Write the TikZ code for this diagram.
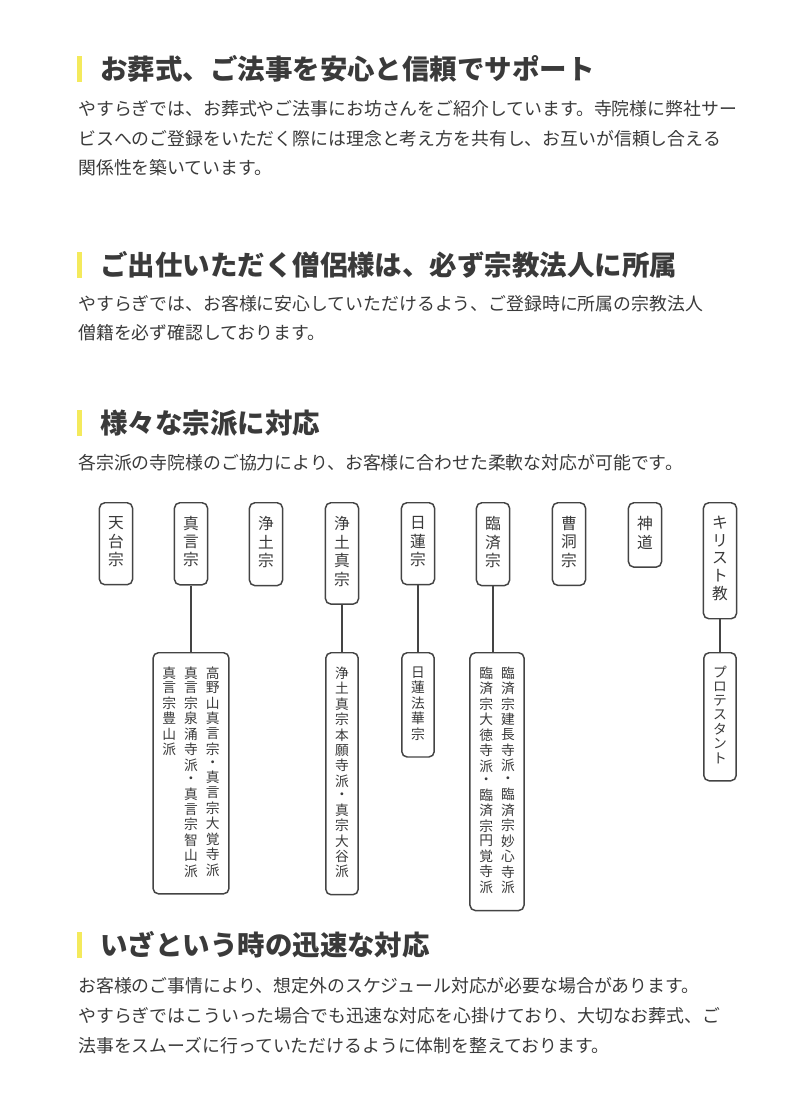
\documentclass[tikz,border=0pt]{standalone}
\usepackage{fontspec}
\setmainfont{Noto Sans CJK JP}
\definecolor{txt}{HTML}{3A3A3A}
\definecolor{bx}{HTML}{444444}
\definecolor{hlyellow}{RGB}{244,234,92}
\ExplSyntaxOn
\tl_new:N \l_my_col_tl
\NewDocumentCommand\vcol{m}{
  \tl_clear:N \l_my_col_tl
  \tl_map_inline:nn {#1}{\tl_put_right:Nn \l_my_col_tl {##1\\}}
  \begin{tabular}[t]{@{}c@{}}\l_my_col_tl\end{tabular}}
\ExplSyntaxOff
\renewcommand\arraystretch{1}
\begin{document}
\begin{tikzpicture}[x=0.75pt,y=-0.75pt,
  every node/.style={inner sep=0pt,text=txt},
  head/.style={anchor=west,font=\fontsize{20.6pt}{22pt}\selectfont\bfseries},
  body/.style={anchor=west,font=\fontsize{13.4pt}{15pt}\selectfont},
  topbox/.style={draw=bx,line width=1.1pt,rounded corners=4pt,anchor=north,
     inner xsep=6.5pt,inner ysep=10.3pt,font=\fontsize{11.8pt}{13.1pt}\selectfont},
  subbox/.style={draw=bx,line width=1.1pt,rounded corners=4pt,anchor=north,
     inner xsep=7pt,inner ysep=10.3pt,font=\fontsize{10.3pt}{10pt}\selectfont},
  bar/.style={fill=hlyellow,draw=none},
  link/.style={draw=bx,line width=1.5pt}]
\useasboundingbox[fill=white] (0,0) rectangle (800,1113);
% headings
\path[bar] (77,56) rectangle (82,82);
\path[bar] (77,252) rectangle (82,278);
\path[bar] (77,410) rectangle (82,436);
\path[bar] (77,932) rectangle (82,958);
\node[head] (h1) at (100,69) {お葬式、ご法事を安心と信頼でサポート};
\node[head] (h2) at (100,265) {ご出仕いただく僧侶様は、必ず宗教法人に所属};
\node[head] (h3) at (100,423) {様々な宗派に対応};
\node[head] (h4) at (100,945) {いざという時の迅速な対応};
% body
\node[body] (b11) at (78,109) {やすらぎでは、お葬式やご法事にお坊さんをご紹介しています。寺院様に弊社サー};
\node[body] (b12) at (78,139) {ビスへのご登録をいただく際には理念と考え方を共有し、お互いが信頼し合える};
\node[body] (b13) at (78,168) {関係性を築いています。};
\node[body] (b21) at (78,304) {やすらぎでは、お客様に安心していただけるよう、ご登録時に所属の宗教法人};
\node[body] (b22) at (78,333) {僧籍を必ず確認しております。};
\node[body] (b31) at (78,463) {各宗派の寺院様のご協力により、お客様に合わせた柔軟な対応が可能です。};
\node[body] (b41) at (78,986) {お客様のご事情により、想定外のスケジュール対応が必要な場合があります。};
\node[body] (b42) at (78,1016) {やすらぎではこういった場合でも迅速な対応を心掛けており、大切なお葬式、ご};
\node[body] (b43) at (78,1046) {法事をスムーズに行っていただけるように体制を整えております。};
% top boxes
\node[topbox] (t1) at (116,502) {\vcol{天台宗}};
\node[topbox] (t2) at (191,502) {\vcol{真言宗}};
\node[topbox] (t3) at (266,502) {\vcol{浄土宗}};
\node[topbox] (t4) at (342,502) {\vcol{浄土真宗}};
\node[topbox] (t5) at (418,502) {\vcol{日蓮宗}};
\node[topbox] (t6) at (493,502) {\vcol{臨済宗}};
\node[topbox] (t7) at (569,502) {\vcol{曹洞宗}};
\node[topbox] (t8) at (645,502) {\vcol{神道}};
\node[topbox] (t9) at (720,502) {\vcol{キリスト教}};
% sub boxes
\node[subbox] (s2) at (191,652) {\vcol{真言宗豊山派}\hspace{6pt}\vcol{真言宗泉涌寺派・真言宗智山派}\hspace{6pt}\vcol{高野山真言宗・真言宗大覚寺派}};
\node[subbox] (s4) at (342,652) {\vcol{浄土真宗本願寺派・真宗大谷派}};
\node[subbox] (s5) at (418,652) {\vcol{日蓮法華宗}};
\node[subbox] (s6) at (497,652) {\vcol{臨済宗大徳寺派・臨済宗円覚寺派}\hspace{6pt}\vcol{臨済宗建長寺派・臨済宗妙心寺派}};
\node[subbox] (s9) at (720,652) {\vcol{プロテスタント}};
% links
\foreach \a/\b in {t2/s2,t4/s4,t5/s5,t9/s9}{\draw[link] (\a.south) -- (\b.north);}
\draw[link] (t6.south) -- (t6.south |- s6.north);
\end{tikzpicture}
\end{document}
